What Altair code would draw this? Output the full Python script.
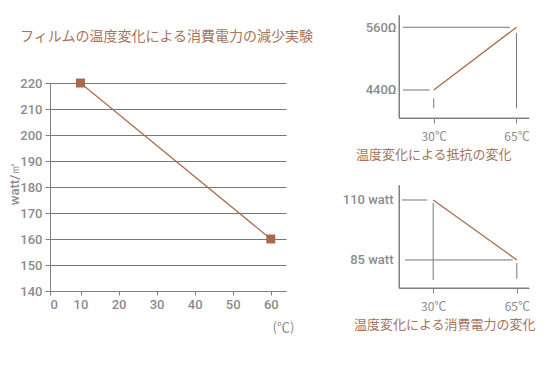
import altair as alt
import pandas as pd

# ---------------- data ----------------
title_text = ["フィルムの温度変化による消費電力の減少実験"]

# main chart: film temperature vs power
temp_c = [10, 60]
power_w = [220, 160]
main_x_ticks = [0, 10, 20, 30, 40, 50, 60]
main_y_ticks = [140, 150, 160, 170, 180, 190, 200, 210, 220]

# small chart 1: resistance change
res_temp = [30, 65]
res_ohm = [440, 560]
res_ticks_x = [30, 65]
res_ticks_y = [440, 560]
res_xdom = [15.3, 70.3]
res_ydom = [386.4, 583.5]
res_guide_h_y = [560, 440]
res_guide_h_x1 = [17.0, 17.0]
res_guide_h_x2 = [62.2, 28.3]
res_guide_v_x = [30, 65]
res_guide_v_y1 = [405, 405]
res_guide_v_y2 = [424, 549]
res_subtitle = "温度変化による抵抗の変化"

# small chart 2: power change
pw_temp = [30, 65]
pw_watt = [110, 85]
pw_ticks_x = [30, 65]
pw_ticks_y = [85, 110]
pw_xdom = [15.7, 70.1]
pw_ydom = [73.3, 116.25]
pw_guide_h_y = [110, 85]
pw_guide_h_x1 = [16.9, 18.2]
pw_guide_h_x2 = [27.5, 63.3]
pw_guide_v_x = [30, 65]
pw_guide_v_y1 = [76.7, 77.1]
pw_guide_v_y2 = [108.7, 83.7]
pw_subtitle = "温度変化による消費電力の変化"

# ---------------- styles ----------------
BROWN = "#a96b4e"
TITLE_C = "#a6745d"
AXIS_C = "#808080"
GRID_C = "#777777"
LABEL_C = "#8c8c8c"
LFONT = "Roboto"
JFONT = "Noto Sans CJK JP"

# ---------------- title view ----------------
title_view = alt.Chart(pd.DataFrame({"t": title_text})).mark_text(
    align="left", baseline="middle", fontSize=14, color=TITLE_C, font=JFONT
).encode(
    text="t:N", x=alt.value(-30), y=alt.value(22)
).properties(width=236, height=68)

# ---------------- main chart ----------------
main_df = pd.DataFrame({"t": temp_c, "w": power_w})
mx = alt.X("t:Q",
           scale=alt.Scale(domain=[0, 10, 64], range=[0, 30.5, 236], nice=False, zero=False),
           axis=alt.Axis(values=main_x_ticks, title="(℃)", grid=False, tickSize=4,
                         domainColor=AXIS_C, tickColor=AXIS_C, domainWidth=1,
                         labelPadding=3, labelFontSize=13, labelColor=LABEL_C, labelFont=LFONT,
                         labelFontWeight=500,
                         titleX=233, titleY=36, titleAlign="center",
                         titleBaseline="middle", titleFontSize=13,
                         titleFontWeight="normal", titleColor=LABEL_C, titleFont=JFONT))
my = alt.Y("w:Q", scale=alt.Scale(domain=[140, 220], nice=False, zero=False),
           axis=alt.Axis(values=main_y_ticks, title="watt/㎡", grid=True, gridColor=GRID_C,
                         domainColor=AXIS_C, tickColor=AXIS_C, domainWidth=1,
                         gridWidth=1, tickSize=5, labelPadding=3, labelFontSize=13,
                         labelColor=LABEL_C, labelFont=LFONT, labelFontWeight=500,
                         titleX=-36, titleY=100,
                         titleAngle=270, titleAlign="center", titleBaseline="middle",
                         titleFontSize=13, titleFontWeight=500, titleColor=LABEL_C,
                         titleFont=LFONT))
main_line = alt.Chart(main_df).mark_line(color=BROWN, strokeWidth=1.2).encode(x=mx, y=my)
main_pts = alt.Chart(main_df).mark_square(size=81, color=BROWN, opacity=1).encode(x=mx, y=my)
main = alt.layer(main_line, main_pts).properties(width=236, height=208)


# ---------------- small charts ----------------
def small_chart(line_x, line_y, tx, ty, lab_suffix, xdom, ydom,
                hy, hx1, hx2, vx, vy1, vy2, subtitle, dx, lab_pad_y):
    sx = alt.Scale(domain=xdom, nice=False, zero=False)
    sy = alt.Scale(domain=ydom, nice=False, zero=False)
    ax = alt.Axis(values=tx, labelExpr="datum.value + '℃'", grid=False,
                  domain=True, domainColor=AXIS_C, ticks=True, tickSize=5,
                  tickColor=AXIS_C, labelPadding=8, title=None, labelFont=JFONT,
                  labelFontSize=12, labelColor=LABEL_C)
    ay = alt.Axis(values=ty, labelExpr="datum.value + '" + lab_suffix + "'", grid=False,
                  domain=True, domainColor=AXIS_C, ticks=False, labelPadding=lab_pad_y,
                  title=None, labelFont=LFONT, labelFontSize=13, labelColor=LABEL_C,
                  labelFontWeight=500)

    def X(f):
        return alt.X(f, scale=sx, axis=ax)

    def Y(f):
        return alt.Y(f, scale=sy, axis=ay)

    hdf = pd.DataFrame({"x": hx1, "x2": hx2, "y": hy})
    vdf = pd.DataFrame({"x": vx, "y": vy1, "y2": vy2})
    ldf = pd.DataFrame({"x": line_x, "y": line_y})
    # axis lines along the scale domains
    xaxis_df = pd.DataFrame({"x": [xdom[0]], "x2": [xdom[1]], "y": [ydom[0]]})
    yaxis_df = pd.DataFrame({"x": [xdom[0]], "y": [ydom[0]], "y2": [ydom[1]]})

    h = alt.Chart(hdf).mark_rule(color=GRID_C, strokeWidth=1, clip=False).encode(
        x=X("x:Q"), x2="x2:Q", y=Y("y:Q"))
    v = alt.Chart(vdf).mark_rule(color=GRID_C, strokeWidth=1, clip=False).encode(
        x=X("x:Q"), y=Y("y:Q"), y2="y2:Q")
    xa = alt.Chart(xaxis_df).mark_rule(color=AXIS_C, strokeWidth=1, clip=False).encode(
        x=X("x:Q"), x2="x2:Q", y=Y("y:Q"))
    ya = alt.Chart(yaxis_df).mark_rule(color=AXIS_C, strokeWidth=1, clip=False).encode(
        x=X("x:Q"), y=Y("y:Q"), y2="y2:Q")
    ln = alt.Chart(ldf).mark_line(color=BROWN, strokeWidth=1.3, clip=False).encode(
        x=X("x:Q"), y=Y("y:Q"))
    return alt.layer(h, v, xa, ya, ln).properties(
        width=130, height=103,
        title=alt.TitleParams(subtitle, orient="bottom", anchor="start", frame="group",
                              dx=dx, offset=7, fontSize=13, color=TITLE_C, font=JFONT,
                              fontWeight="normal"))


top_small = small_chart(res_temp, res_ohm, res_ticks_x, res_ticks_y, "Ω",
                        res_xdom, res_ydom,
                        res_guide_h_y, res_guide_h_x1, res_guide_h_x2,
                        res_guide_v_x, res_guide_v_y1, res_guide_v_y2,
                        res_subtitle, -43, 3)
bottom_small = small_chart(pw_temp, pw_watt, pw_ticks_x, pw_ticks_y, " watt",
                           pw_xdom, pw_ydom,
                           pw_guide_h_y, pw_guide_h_x1, pw_guide_h_x2,
                           pw_guide_v_x, pw_guide_v_y1, pw_guide_v_y2,
                           pw_subtitle, -45, 6)

left = alt.vconcat(title_view, main, spacing=0, bounds="flush")
right = alt.vconcat(top_small, bottom_small, spacing=67, bounds="flush")

chart = alt.hconcat(left, right, spacing=28).properties(
    padding={"left": 0, "top": 6, "right": 0, "bottom": 5}
).configure(background="white").configure_view(stroke=None)

chart.save("out.html", embed_options={"renderer": "svg", "actions": False})
